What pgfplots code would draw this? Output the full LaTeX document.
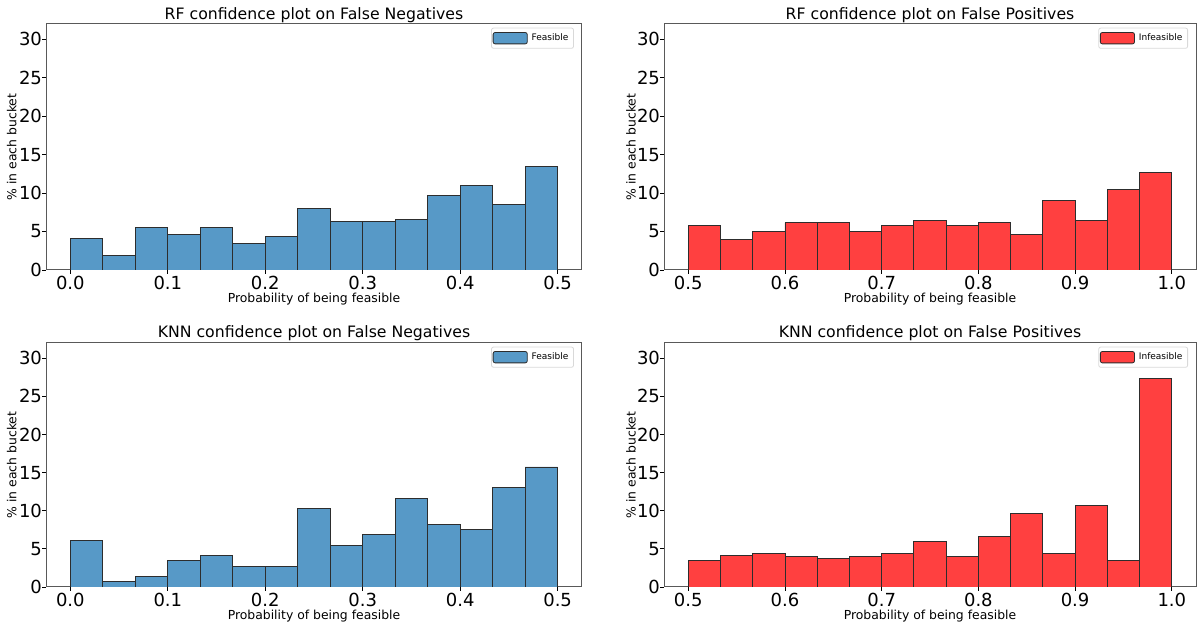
\documentclass[border=0pt]{standalone}
\usepackage{pgfplots}
\usepackage{pgfplotstable}
\pgfplotsset{compat=1.18}
\usepackage{fontspec}
\setmainfont{DejaVu Sans}
\definecolor{hblue}{RGB}{87,153,199}
\definecolor{hred}{RGB}{255,64,64}
\definecolor{hedge}{RGB}{45,45,45}

\pgfplotstableread{
x y
0 4.1
0.033333 1.9
0.066667 5.5
0.1 4.6
0.133333 5.5
0.166667 3.5
0.2 4.35
0.233333 8.0
0.266667 6.3
0.3 6.3
0.333333 6.6
0.366667 9.65
0.4 11.0
0.433333 8.5
0.466667 13.5
0.5 13.5
}\rffn
\pgfplotstableread{
x y
0.5 5.75
0.533333 3.95
0.566667 5.05
0.6 6.15
0.633333 6.15
0.666667 5.05
0.7 5.75
0.733333 6.5
0.766667 5.75
0.8 6.15
0.833333 4.6
0.866667 9.05
0.9 6.5
0.933333 10.5
0.966667 12.65
1.0 12.65
}\rffp
\pgfplotstableread{
x y
0 6.15
0.033333 0.7
0.066667 1.35
0.1 3.45
0.133333 4.1
0.166667 2.75
0.2 2.75
0.233333 10.3
0.266667 5.5
0.3 6.85
0.333333 11.6
0.366667 8.2
0.4 7.55
0.433333 13.0
0.466667 15.75
0.5 15.75
}\knnfn
\pgfplotstableread{
x y
0.5 3.5
0.533333 4.1
0.566667 4.4
0.6 3.95
0.633333 3.75
0.666667 3.95
0.7 4.4
0.733333 5.95
0.766667 3.95
0.8 6.6
0.833333 9.65
0.866667 4.4
0.9 10.7
0.933333 3.5
0.966667 27.4
1.0 27.4
}\knnfp

\pgfplotsset{
  hist/.style={
    scale only axis,
    ymin=0, ymax=32, ytick={0,5,...,30},
    axis line style={gray!70!black, line width=0.5pt},
    tick style={black, line width=0.4pt},
    tick align=outside, major tick length=2pt,
    xtick pos=bottom, ytick pos=left,
    tick label style={font=\fontsize{9}{9}\selectfont},
    xticklabel style={yshift=2.5pt},
    yticklabel style={xshift=3.5pt},
    /pgf/number format/assume math mode=true,
    xticklabel={\pgfmathprintnumber[fixed,fixed zerofill,precision=1]{\tick}},
    every axis title shift=0pt,
    title style={font=\fontsize{7.85}{8}\selectfont, anchor=center, yshift=0pt},
    label style={font=\fontsize{6.2}{6.5}\selectfont},
    xlabel={Probability of being feasible},
    ylabel={\% in each bucket},
    legend style={at={(0.985,0.985)}, anchor=north east,
      font=\fontsize{4.5}{5}\selectfont, draw=gray!30, rounded corners=1pt,
      inner sep=0.6pt, row sep=-1pt},
    legend cell align=left,
  },
  leftax/.style={hist, width=268pt, xmin=-0.025, xmax=0.525, xtick={0,0.1,...,0.5},
    ylabel style={at={(axis description cs:-0.064,0.5)}, anchor=center}},
  rightax/.style={hist, width=266pt, xmin=0.475, xmax=1.025, xtick={0.5,0.6,...,1.0},
    ylabel style={at={(axis description cs:-0.062,0.5)}, anchor=center}},
  toprow/.style={height=123pt,
    title style={at={(axis description cs:0.5,1.037)}},
    xlabel style={at={(axis description cs:0.5,-0.12)}, anchor=center}},
  botrow/.style={height=122pt,
    title style={at={(axis description cs:0.5,1.041)}},
    xlabel style={at={(axis description cs:0.5,-0.12)}, anchor=center}},
}

\begin{document}
\begin{tikzpicture}
\useasboundingbox (0,0) rectangle (599pt,-315pt);
\begin{axis}[leftax, toprow, at={(23pt,-12pt)}, anchor=north west,
  title={RF confidence plot on False Negatives}]
\addplot[ybar interval, fill=hblue, draw=hedge, line width=0.4pt, area legend] table[x=x,y=y] {\rffn};
\addlegendentry{Feasible}
\end{axis}
\begin{axis}[rightax, toprow, at={(332pt,-12pt)}, anchor=north west,
  title={RF confidence plot on False Positives}]
\addplot[ybar interval, fill=hred, draw=hedge, line width=0.4pt, area legend] table[x=x,y=y] {\rffp};
\addlegendentry{Infeasible}
\end{axis}
\begin{axis}[leftax, botrow, at={(23pt,-171.5pt)}, anchor=north west,
  title={KNN confidence plot on False Negatives}]
\addplot[ybar interval, fill=hblue, draw=hedge, line width=0.4pt, area legend] table[x=x,y=y] {\knnfn};
\addlegendentry{Feasible}
\end{axis}
\begin{axis}[rightax, botrow, at={(332pt,-171.5pt)}, anchor=north west,
  title={KNN confidence plot on False Positives}]
\addplot[ybar interval, fill=hred, draw=hedge, line width=0.4pt, area legend] table[x=x,y=y] {\knnfp};
\addlegendentry{Infeasible}
\end{axis}
\end{tikzpicture}
\end{document}
